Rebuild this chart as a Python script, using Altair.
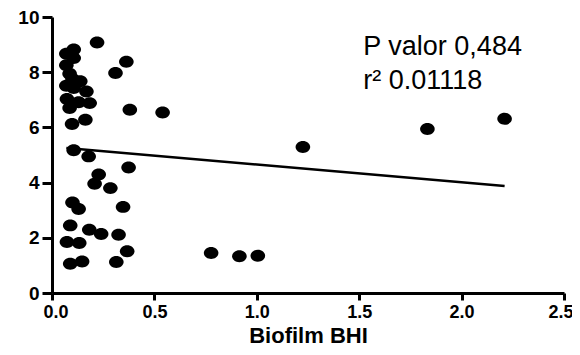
import altair as alt
import pandas as pd

# Biofilm BHI (x) vs y-values
biofilm_bhi = [0.22, 0.106, 0.07, 0.106, 0.07, 0.363, 0.31, 0.086, 0.07, 0.138,
               0.106, 0.168, 0.073, 0.086, 0.13, 0.184, 0.38, 0.54, 0.098, 0.163,
               0.106, 0.179, 0.374, 0.228, 0.208, 0.285, 0.10, 0.13, 0.347, 0.089,
               0.182, 0.24, 0.325, 0.073, 0.133, 0.367, 0.089, 0.147, 0.314,
               1.225, 0.777, 0.915, 1.005, 2.21, 1.833, 0.10]
values = [9.08, 8.82, 8.67, 8.51, 8.25, 8.38, 7.97, 7.94, 7.51, 7.67,
          7.43, 7.30, 7.03, 6.70, 6.91, 6.88, 6.64, 6.54, 6.12, 6.28,
          5.17, 4.95, 4.55, 4.29, 3.96, 3.80, 3.28, 3.04, 3.12, 2.45,
          2.29, 2.14, 2.11, 1.85, 1.81, 1.51, 1.06, 1.14, 1.12,
          5.29, 1.45, 1.33, 1.35, 6.31, 5.94, 7.75]

x_ticks = [0.0, 0.5, 1.0, 1.5, 2.0, 2.5]
y_ticks = [0, 2, 4, 6, 8, 10]

annot_x = [1.52, 1.52]
annot_y = [8.61, 7.39]
annot_text = ["P valor 0,484", "r\u00b2 0.01118"]

df = pd.DataFrame({"x": biofilm_bhi, "y": values})
ann = pd.DataFrame({"x": annot_x, "y": annot_y, "t": annot_text})

xscale = alt.Scale(domain=[0, 2.5], nice=False, zero=False)
yscale = alt.Scale(domain=[0, 10], nice=False)

xaxis = alt.Axis(values=x_ticks, format=".1f", title="Biofilm BHI", tickSize=7,
                 labelPadding=3, labelFlush=True, labelFlushOffset=9, labelFontSize=18,
                 titleBaseline="alphabetic", titleY=49, titleFontSize=22)
yaxis = alt.Axis(values=y_ticks, format="d", title=None, tickSize=10, labelPadding=3,
                 labelFlush=False, labelFontSize=19)

ellipse = "M-1,0A1,0.82,0,1,0,1,0A1,0.82,0,1,0,-1,0Z"

points = alt.Chart(df).mark_point(
    shape=ellipse, filled=True, color="black", opacity=1, size=213
).encode(
    x=alt.X("x:Q", scale=xscale, axis=xaxis),
    y=alt.Y("y:Q", scale=yscale, axis=yaxis),
)

line = alt.Chart(df).transform_regression("x", "y").mark_line(
    color="black", strokeWidth=2.5
).encode(
    x=alt.X("x:Q", scale=xscale),
    y=alt.Y("y:Q", scale=yscale),
)

text = alt.Chart(ann).mark_text(
    align="left", baseline="alphabetic", font="Liberation Sans", fontSize=27, color="black"
).encode(
    x=alt.X("x:Q", scale=xscale),
    y=alt.Y("y:Q", scale=yscale),
    text="t:N",
)

chart = alt.layer(points, line, text).properties(
    width=512, height=276,
    autosize=alt.AutoSizeParams(type="none"),
    padding={"left": 44, "top": 9, "right": 8, "bottom": 54},
).configure_view(stroke=None).configure_axis(
    grid=False,
    domainColor="black", domainWidth=3,
    tickColor="black", tickWidth=3,
    labelColor="black", labelFont="Liberation Sans", labelFontWeight="bold",
    titleColor="black", titleFont="Liberation Sans", titleFontWeight="bold",
)

chart.save("out.html", embed_options={"renderer": "svg", "actions": False})
